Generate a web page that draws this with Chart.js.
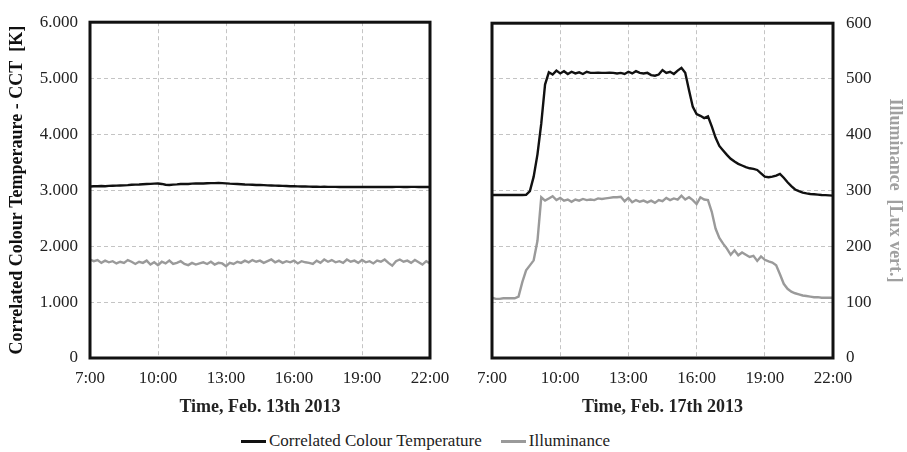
<!DOCTYPE html>
<html><head><meta charset="utf-8">
<script src="https://cdn.jsdelivr.net/npm/chart.js@4.4.0/dist/chart.umd.min.js"></script>
<style>
html,body{margin:0;padding:0;background:#fff;width:907px;height:452px;overflow:hidden;}
#c1{position:absolute;left:0;top:0;}
#c2{position:absolute;left:460px;top:0;}
#legend{position:absolute;left:241px;top:431px;height:20px;white-space:nowrap;font-family:'Liberation Serif';font-size:17px;line-height:20px;color:#222;}
.item{display:inline-block;vertical-align:top;}
.sw{display:inline-block;width:25px;height:3px;vertical-align:middle;margin-right:3px;position:relative;top:-1px;}
</style></head><body>
<canvas id="c1" width="460" height="420"></canvas>
<canvas id="c2" width="447" height="420"></canvas>
<div id="legend">
  <span class="item"><span class="sw" style="background:#111"></span>Correlated Colour Temperature</span><span class="item" style="margin-left:19px"><span class="sw" style="background:#9a9a9a"></span>Illuminance</span>
</div>
<script>
// ---------- DATA ----------
const timeLabels = [
 "7:00","7:10","7:20","7:30","7:40","7:50",
 "8:00","8:10","8:20","8:30","8:40","8:50",
 "9:00","9:10","9:20","9:30","9:40","9:50",
 "10:00","10:10","10:20","10:30","10:40","10:50",
 "11:00","11:10","11:20","11:30","11:40","11:50",
 "12:00","12:10","12:20","12:30","12:40","12:50",
 "13:00","13:10","13:20","13:30","13:40","13:50",
 "14:00","14:10","14:20","14:30","14:40","14:50",
 "15:00","15:10","15:20","15:30","15:40","15:50",
 "16:00","16:10","16:20","16:30","16:40","16:50",
 "17:00","17:10","17:20","17:30","17:40","17:50",
 "18:00","18:10","18:20","18:30","18:40","18:50",
 "19:00","19:10","19:20","19:30","19:40","19:50",
 "20:00","20:10","20:20","20:30","20:40","20:50",
 "21:00","21:10","21:20","21:30","21:40","21:50",
 "22:00"];

const xTickLabels = ["7:00","10:00","13:00","16:00","19:00","22:00"];
const cctTickLabels = ["0","1.000","2.000","3.000","4.000","5.000","6.000"];
const luxTickLabels = ["0","100","200","300","400","500","600"];

// Feb. 13th 2013
const cct13 = [
 3065,3068,3070,3072,3070,3075,
 3078,3080,3082,3085,3088,3095,
 3098,3100,3105,3108,3112,3115,
 3118,3110,3095,3092,3098,3102,
 3108,3112,3110,3115,3118,3120,
 3118,3122,3125,3124,3128,3125,
 3120,3115,3112,3108,3105,3100,
 3098,3095,3092,3090,3088,3085,
 3082,3080,3078,3075,3072,3070,
 3068,3066,3065,3063,3062,3060,
 3060,3058,3060,3058,3057,3058,
 3056,3058,3055,3057,3056,3058,
 3055,3056,3058,3055,3057,3056,
 3058,3056,3055,3057,3058,3056,
 3055,3057,3058,3056,3055,3057,
 3056];
const lux13 = [
 176,173,175,170,174,171,
 173,169,172,170,175,172,
 168,172,170,174,167,171,
 166,172,169,174,168,170,
 173,168,166,170,167,169,
 171,168,172,167,170,169,
 164,170,168,172,170,174,
 171,175,172,174,170,173,
 176,171,174,170,173,171,
 174,169,173,171,170,168,
 174,170,176,172,175,171,
 173,170,176,172,174,170,
 175,171,173,169,174,172,
 176,170,165,173,176,172,
 174,170,175,171,167,173,
 169];

// Feb. 17th 2013
const cct17 = [
 2920,2920,2920,2920,2920,2921,
 2921,2922,2922,2925,2990,3250,
 3650,4200,4900,5120,5080,5150,
 5100,5140,5090,5130,5100,5120,
 5090,5130,5110,5110,5115,5110,
 5110,5115,5110,5100,5110,5090,
 5130,5100,5140,5110,5100,5110,
 5070,5060,5080,5160,5110,5130,
 5090,5150,5200,5110,4800,4500,
 4370,4340,4300,4330,4150,3950,
 3800,3720,3640,3570,3520,3480,
 3450,3420,3400,3390,3370,3310,
 3250,3240,3250,3270,3300,3230,
 3150,3080,3020,2990,2965,2950,
 2940,2935,2928,2922,2918,2914,
 2910];
const lux17 = [
 108,106,106,107,107,107,
 107,110,136,157,166,175,
 210,288,282,286,290,283,
 287,282,284,280,284,282,
 285,283,284,283,286,285,
 286,287,288,288,289,281,
 287,279,283,280,282,279,
 282,278,283,281,287,283,
 286,284,291,284,288,283,
 276,288,284,283,262,232,
 215,205,196,185,193,184,
 189,185,181,183,174,182,
 176,173,171,166,150,133,
 124,119,116,114,112,111,
 110,109,109,108,108,108,
 108];

// ---------- HELPERS ----------
const toHours = s => { const [h,m] = s.split(":").map(Number); return h + m/60; };
const pts = arr => arr.map((v,i) => ({x: toHours(timeLabels[i]), y: v}));
const xVals = xTickLabels.map(toHours);
const cctVals = cctTickLabels.map(s => Number(s.replace('.','')));
const luxVals = luxTickLabels.map(Number);

const SERIF = "'Liberation Serif'";
const GRID = {color:'#c4c4c4', lineWidth:1, drawTicks:false};
const BORDER = {display:false, dash:[4,3]};

const frame = {
  id:'frame',
  afterDraw(chart){
    const {ctx, chartArea:a} = chart;
    ctx.save();
    ctx.strokeStyle = '#111';
    ctx.lineWidth = 3;
    ctx.strokeRect(a.left, a.top, a.right - a.left, a.bottom - a.top);
    ctx.restore();
  }
};

function xScale(title){
  return {
    type:'linear', min:xVals[0], max:xVals[xVals.length-1],
    afterBuildTicks: s => { s.ticks = xVals.map(v => ({value:v})); },
    afterFit: s => { s.height = 62; },
    grid: GRID, border: BORDER,
    ticks:{ padding:10, color:'#222', font:{family:SERIF, size:17},
      maxRotation:0, autoSkip:false,
      callback:(v,i) => xTickLabels[i] },
    title:{ display:true, text:title, color:'#222',
      font:{family:SERIF, size:18, weight:'bold'}, padding:{top:0,bottom:2} }
  };
}

function datasets(cct, lux){
  return [
    {label:'Correlated Colour Temperature', data:pts(cct), yAxisID:'y',
      borderColor:'#111', borderWidth:2.4, pointRadius:0, tension:0},
    {label:'Illuminance', data:pts(lux), yAxisID:'y1',
      borderColor:'#9a9a9a', borderWidth:2.4, pointRadius:0, tension:0}
  ];
}

const common = {
  responsive:false, animation:false, devicePixelRatio:1,
  plugins:{legend:{display:false}, tooltip:{enabled:false}}
};

function build(){
  new Chart(document.getElementById('c1'), {
    type:'line',
    data:{datasets: datasets(cct13, lux13)},
    options:{...common,
      layout:{padding:{left:0, right:30, top:15, bottom:0}},
      scales:{
        x: xScale('Time, Feb. 13th 2013'),
        y:{ type:'linear', position:'left', min:0, max:6000,
          afterBuildTicks: s => { s.ticks = cctVals.map(v => ({value:v})); },
          afterFit: s => { s.width = 90; },
          grid: GRID, border: BORDER,
          ticks:{ padding:12, color:'#222', font:{family:SERIF, size:17},
            callback:(v,i) => cctTickLabels[i] },
          title:{ display:true, text:'Correlated Colour Temperaure - CCT  [K]', color:'#111',
            font:{family:SERIF, size:18, weight:'bold'}, padding:{top:7,bottom:0} }
        },
        y1:{ type:'linear', position:'right', min:0, max:600, display:false }
      }
    },
    plugins:[frame]
  });

  new Chart(document.getElementById('c2'), {
    type:'line',
    data:{datasets: datasets(cct17, lux17)},
    options:{...common,
      layout:{padding:{left:32, right:0, top:15, bottom:0}},
      scales:{
        x: xScale('Time, Feb. 17th 2013'),
        y:{ type:'linear', position:'left', min:0, max:6000, display:false },
        y1:{ type:'linear', position:'right', min:0, max:600,
          afterBuildTicks: s => { s.ticks = luxVals.map(v => ({value:v})); },
          afterFit: s => { s.width = 74; },
          grid: GRID, border: BORDER,
          ticks:{ padding:13, color:'#222', font:{family:SERIF, size:17},
            callback:(v,i) => luxTickLabels[i] },
          title:{ display:true, text:'Illuminance  [Lux vert.]', color:'#a0a0a0',
            font:{family:SERIF, size:18, weight:'bold'}, padding:{top:2,bottom:0} }
        }
      }
    },
    plugins:[frame]
  });
}

Promise.all([
  document.fonts.load("17px 'Liberation Serif'"),
  document.fonts.load("bold 18px 'Liberation Serif'")
]).then(build, build);
</script>
</body></html>
